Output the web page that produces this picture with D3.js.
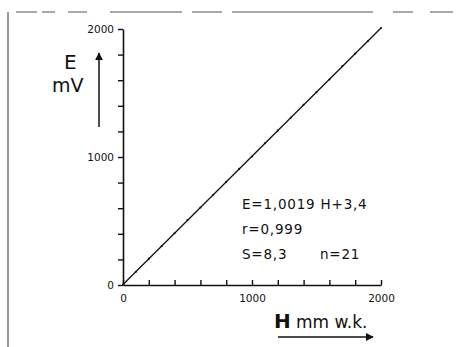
<!DOCTYPE html>
<html>
<head>
<meta charset="utf-8">
<script src="https://cdn.jsdelivr.net/npm/d3@7"></script>
<style>
  html, body { margin: 0; padding: 0; background: #fff; }
  svg { display: block; }
  text { fill: #111; }
</style>
</head>
<body>
<svg id="chart" width="465" height="347"></svg>
<script>
// Calibration: pressure head H (mm w.k.) against output voltage E (mV)
const headValues = [0, 100, 200, 300, 400, 500, 600, 700, 800, 900, 1000,
                    1100, 1200, 1300, 1400, 1500, 1600, 1700, 1800, 1900, 2000];
const voltageValues = [2, 104, 206, 305, 404, 508, 606, 705, 806, 907, 1004,
                       1108, 1206, 1306, 1408, 1506, 1606, 1710, 1808, 1906, 2007];
const xTickValues = [0, 200, 400, 600, 800, 1000, 1200, 1400, 1600, 1800, 2000];
const yTickValues = [0, 200, 400, 600, 800, 1000, 1200, 1400, 1600, 1800, 2000];
const labelledTicks = [0, 1000, 2000];
// Regression result printed in the plot
const fitSlope = 1.0019;
const fitIntercept = 3.4;
const statsLines = ["E=1,0019 H+3,4", "r=0,999"];
const statS = "S=8,3";
const statN = "n=21";

const svg = d3.select("#chart");
const font = "'DejaVu Sans', sans-serif";

const x = d3.scaleLinear().domain([0, 2000]).range([123, 381]);
const y = d3.scaleLinear().domain([0, 2000]).range([285, 29]);

// frame: thin left rule and broken top rule
svg.append("line")
  .attr("x1", 8).attr("x2", 8).attr("y1", 12).attr("y2", 347)
  .attr("stroke", "#333").attr("stroke-width", 1);
svg.append("line")
  .attr("x1", 16).attr("x2", 465).attr("y1", 12).attr("y2", 12)
  .attr("stroke", "#555").attr("stroke-width", 1)
  .attr("stroke-dasharray", "21,5,13,13,19,23,72,10,30,10,141,20,20,17,23,100");

const fmt = d => labelledTicks.includes(d) ? d3.format("d")(d) : "";

// y axis, ticks outward to the left
const gy = svg.append("g")
  .attr("transform", `translate(${x(0)},0)`)
  .call(d3.axisLeft(y).tickValues(yTickValues).tickSize(5).tickSizeOuter(0)
    .tickPadding(4).tickFormat(fmt));

// x axis, ticks pointing up into the plot
const gx = svg.append("g")
  .attr("transform", `translate(0,${y(0)})`)
  .call(d3.axisBottom(x).tickValues(xTickValues).tickSizeInner(-5).tickSizeOuter(0)
    .tickPadding(10).tickFormat(fmt));

[gx, gy].forEach(g => {
  g.select(".domain").attr("stroke", "#111").attr("stroke-width", 1.6);
  g.selectAll(".tick line").attr("stroke", "#111").attr("stroke-width", 1.4);
  g.selectAll(".tick text").attr("font-family", font).attr("font-size", 10.5)
    .attr("fill", "#111");
});

// fitted line
svg.append("line")
  .attr("x1", x(0)).attr("y1", y(fitIntercept))
  .attr("x2", x(2000)).attr("y2", y(fitSlope * 2000 + fitIntercept))
  .attr("stroke", "#111").attr("stroke-width", 1.3);

// measured points
svg.append("g").selectAll("circle")
  .data(headValues.map((h, i) => [h, voltageValues[i]]))
  .join("circle")
  .attr("cx", d => x(d[0])).attr("cy", d => y(d[1]))
  .attr("r", 1.05).attr("fill", "#111");

// axis titles with arrows
const defs = svg.append("defs");
defs.append("marker")
  .attr("id", "head").attr("viewBox", "0 0 10 10")
  .attr("refX", 9).attr("refY", 5)
  .attr("markerWidth", 8).attr("markerHeight", 8)
  .attr("markerUnits", "userSpaceOnUse")
  .attr("orient", "auto")
  .append("path").attr("d", "M0,0 L10,5 L0,10 Z").attr("fill", "#111");

svg.append("text").attr("x", 64).attr("y", 69)
  .attr("font-family", font).attr("font-size", 20).text("E");
svg.append("text").attr("x", 52).attr("y", 92)
  .attr("font-family", font).attr("font-size", 19).text("mV");
svg.append("line")
  .attr("x1", 99).attr("y1", 127).attr("x2", 99).attr("y2", 53)
  .attr("stroke", "#111").attr("stroke-width", 1.5)
  .attr("marker-end", "url(#head)");

svg.append("text").attr("x", 274).attr("y", 328)
  .attr("font-family", font).attr("font-size", 20).attr("font-weight", "bold").text("H");
svg.append("text").attr("x", 296).attr("y", 328)
  .attr("font-family", font).attr("font-size", 17).text("mm w.k.");
svg.append("line")
  .attr("x1", 278).attr("y1", 337).attr("x2", 373).attr("y2", 337)
  .attr("stroke", "#111").attr("stroke-width", 1.6)
  .attr("marker-end", "url(#head)");

// regression statistics
const stats = svg.append("g").attr("font-family", font).attr("font-size", 13.5)
  .attr("letter-spacing", 0.8);
statsLines.forEach((s, i) => {
  stats.append("text").attr("x", 242).attr("y", 209 + i * 25).text(s);
});
stats.append("text").attr("x", 242).attr("y", 259).text(statS);
stats.append("text").attr("x", 320).attr("y", 259).text(statN);
</script>
</body>
</html>
